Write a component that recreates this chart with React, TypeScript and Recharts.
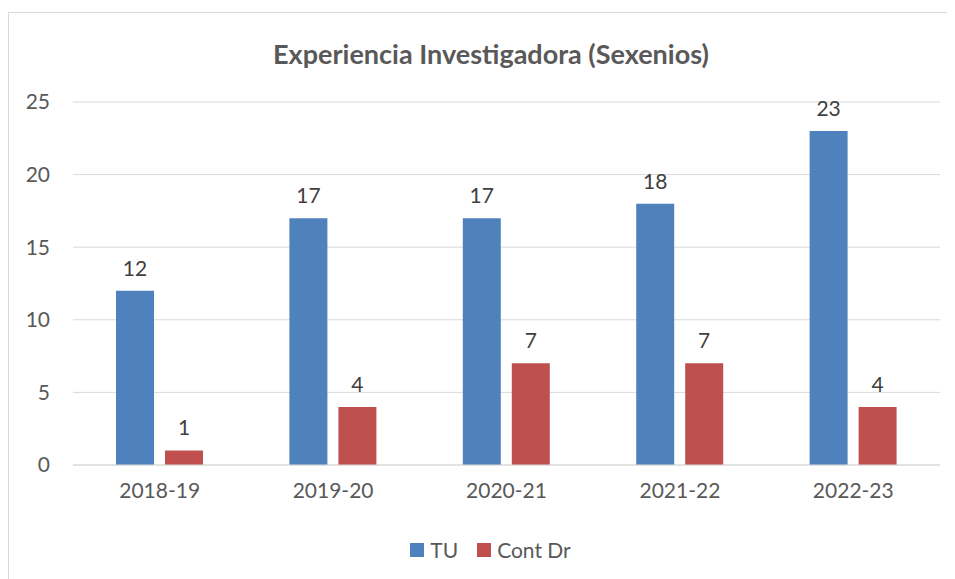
import { BarChart, Bar, XAxis, YAxis, CartesianGrid, Legend, LabelList } from 'recharts';

const years = ['2018-19', '2019-20', '2020-21', '2021-22', '2022-23'];
const tu = [12, 17, 17, 18, 23];
const contDr = [1, 4, 7, 7, 4];
const yTicks = [0, 5, 10, 15, 20, 25];

const data = years.map((year, i) => ({ year, tu: tu[i], contDr: contDr[i] }));

const FONT = 'Lato, "Open Sans", sans-serif';
const TEXT = '#595959';

function LegendContent() {
  const items = [
    { label: 'TU', color: '#4f81bd' },
    { label: 'Cont Dr', color: '#c0504d' },
  ];
  return (
    <div style={{ display: 'flex', justifyContent: 'center', gap: 19, fontFamily: FONT, fontSize: 21, color: TEXT, lineHeight: '22px', paddingLeft: 8 }}>
      {items.map(it => (
        <div key={it.label} style={{ display: 'flex', alignItems: 'center', gap: 6 }}>
          <span style={{ width: 14, height: 14, background: it.color, display: 'inline-block' }} />
          <span>{it.label}</span>
        </div>
      ))}
    </div>
  );
}

export default function App() {
  return (
    <div style={{ paddingTop: 4 }}>
      <div
        style={{
          position: 'relative',
          width: 946,
          height: 566,
          borderTop: '1px solid #d9d9d9',
          borderLeft: '1px solid #d9d9d9',
          background: '#fff',
        }}
      >
        <div
          style={{
            position: 'absolute',
            top: 24,
            left: 0,
            width: 946,
            textAlign: 'center',
            fontFamily: FONT,
            fontWeight: 700,
            fontSize: 27,
            color: TEXT,
            paddingLeft: 18,
            boxSizing: 'border-box',
          }}
        >
          Experiencia Investigadora (Sexenios)
        </div>
        <BarChart
          width={946}
          height={566}
          data={data}
          margin={{ top: 89, right: 15, left: 24, bottom: 62 }}
          barCategoryGap="25%"
          barGap={11}
        >
          <CartesianGrid vertical={false} stroke="#d9d9d9" />
          <XAxis
            dataKey="year"
            axisLine={{ stroke: '#d9d9d9' }}
            tickLine={false}
            tickSize={0}
            tickMargin={18}
            height={30}
            tick={{ fill: TEXT, fontSize: 21, fontFamily: FONT }}
          />
          <YAxis
            domain={[0, 25]}
            ticks={yTicks}
            axisLine={false}
            tickLine={false}
            tickSize={0}
            tickMargin={23}
            width={40}
            tick={{ fill: TEXT, fontSize: 21, fontFamily: FONT }}
          />
          <Legend verticalAlign="bottom" content={<LegendContent />} wrapperStyle={{ bottom: 18 }} />
          <Bar dataKey="tu" name="TU" fill="#4f81bd" barSize={38} isAnimationActive={false}>
            <LabelList dataKey="tu" position="top" offset={15} fill="#404040" fontSize={21} fontFamily={FONT} />
          </Bar>
          <Bar dataKey="contDr" name="Cont Dr" fill="#c0504d" barSize={38} isAnimationActive={false}>
            <LabelList dataKey="contDr" position="top" offset={15} fill="#404040" fontSize={21} fontFamily={FONT} />
          </Bar>
        </BarChart>
      </div>
    </div>
  );
}
